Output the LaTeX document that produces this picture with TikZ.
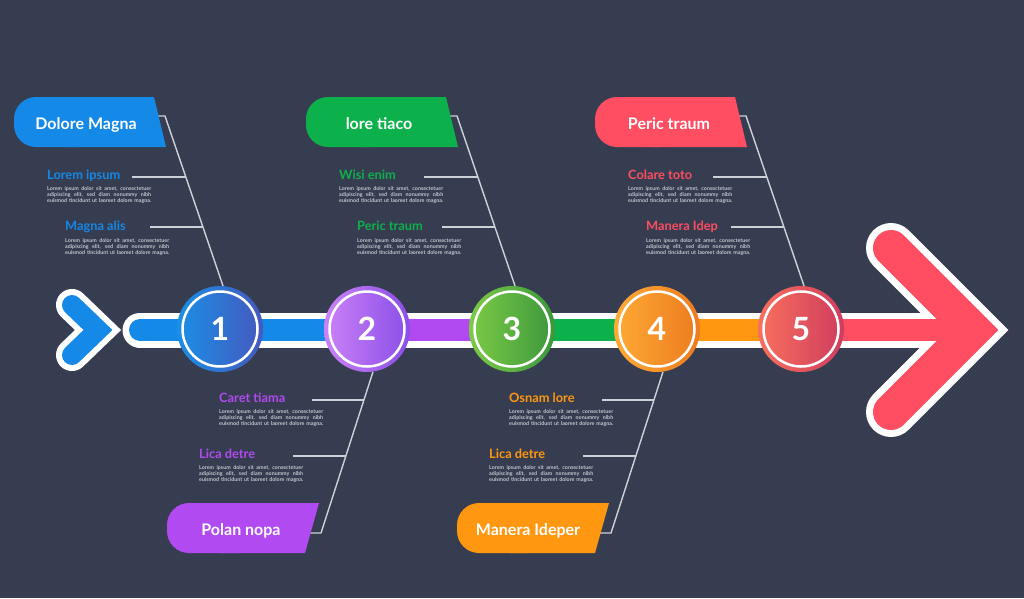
\documentclass[tikz,border=0pt]{standalone}
\usepackage{fontspec}
\setmainfont{Lato}
\usetikzlibrary{calc}
\pgfdeclarelayer{back}
\pgfsetlayers{back,main}
\definecolor{bg}{HTML}{363D50}
\definecolor{lineC}{HTML}{CDD1D8}
\definecolor{loremC}{HTML}{C3C7D0}
\definecolor{cBlue}{HTML}{1589E8}
\definecolor{cPurple}{HTML}{B24AF2}
\definecolor{cGreen}{HTML}{0DB14B}
\definecolor{cOrange}{HTML}{FF9710}
\definecolor{cRed}{HTML}{FF4D61}
\definecolor{g1l}{HTML}{1A8FE6}\definecolor{g1r}{HTML}{4658BE}
\definecolor{g2l}{HTML}{CB82F7}\definecolor{g2r}{HTML}{8A4EE8}
\definecolor{g3l}{HTML}{7CCB45}\definecolor{g3r}{HTML}{3C973C}
\definecolor{g4l}{HTML}{FFAA35}\definecolor{g4r}{HTML}{EC7B1F}
\definecolor{g5l}{HTML}{F8705E}\definecolor{g5r}{HTML}{CF3C5E}
\newcommand{\lorembody}{\makebox[104pt][s]{Lorem ipsum dolor sit amet, consectetuer}\\\makebox[104pt][s]{adipiscing elit, sed diam nonummy nibh}\\\makebox[104pt][s]{euismod tincidunt ut laoreet dolore magna.}}
\tikzset{
  conn/.style={draw=lineC, line width=1.4pt},
  blocktitle/.style={text=white, font=\fontsize{16}{19}\selectfont\bfseries, anchor=base, inner sep=0pt},
  subtitle/.style={font=\fontsize{12.8}{15}\selectfont\bfseries, anchor=base west, inner sep=0pt},
  loremnode/.style={text=loremC, font=\fontsize{5.3}{6.1}\selectfont\bfseries, anchor=north west, inner sep=0pt, align=left},
  numcircle/.style={circle, minimum size=86pt, inner sep=0pt, text=white, font=\fontsize{32}{36}\selectfont\bfseries},
  ring/.style={draw=white, line width=2.5pt},
  barwhite/.style={white, line width=35pt},
  barcol/.style={line width=22pt},
}
\begin{document}
\begin{tikzpicture}[x=1pt,y=-1pt]
\useasboundingbox (0,0) rectangle (1024,598);
\begin{pgfonlayer}{back}
\fill[bg] (0,0) rectangle (1024,598);
% white outlines
\draw[barwhite, line cap=round] (140,330) -- (950,330);
\draw[white, line width=32pt, line cap=round, line join=miter] (72,305) -- (98,330) -- (72,355);
\draw[white, line width=50pt, line cap=round, line join=miter] (891,248) -- (973,330) -- (891,412);
% coloured bar
\draw[barcol, cBlue, line cap=round] (140,330) -- (367,330);
\draw[barcol, cPurple] (367,330) -- (512,330);
\draw[barcol, cGreen] (512,330) -- (657,330);
\draw[barcol, cOrange] (657,330) -- (801,330);
\draw[barcol, cRed, line cap=round] (801,330) -- (950,330);
\draw[cBlue, line width=20pt, line cap=round, line join=miter] (72,305) -- (98,330) -- (72,355);
\draw[cRed, line width=36pt, line cap=round, line join=miter] (891,248) -- (973,330) -- (891,412);
\end{pgfonlayer}

% circles
\node[numcircle, left color=g1l, right color=g1r] (n1) at (220,329) {1};
\node[numcircle, left color=g2l, right color=g2r] (n2) at (367,329) {2};
\node[numcircle, left color=g3l, right color=g3r] (n3) at (512,329) {3};
\node[numcircle, left color=g4l, right color=g4r] (n4) at (657,329) {4};
\node[numcircle, left color=g5l, right color=g5r] (n5) at (801,329) {5};
\foreach \n in {n1,n2,n3,n4,n5}{\draw[ring] (\n.center) circle [radius=37.5];}

% connectors (behind)
\coordinate (s1) at (158,116); \coordinate (k1) at (165,116);
\coordinate (a1) at (132,177); \coordinate (b1) at (185.8,177);
\coordinate (c1) at (150,227); \coordinate (e1) at (202.9,227);
\coordinate (s3) at (450,116); \coordinate (k3) at (457,116);
\coordinate (a3) at (424,177); \coordinate (b3) at (477.8,177);
\coordinate (c3) at (442,227); \coordinate (e3) at (494.9,227);
\coordinate (s5) at (739,116); \coordinate (k5) at (746,116);
\coordinate (a5) at (713,177); \coordinate (b5) at (766.8,177);
\coordinate (c5) at (731,227); \coordinate (e5) at (783.9,227);
\coordinate (s2) at (308,533); \coordinate (k2) at (321,533);
\coordinate (a2) at (312,400); \coordinate (b2) at (364,400);
\coordinate (c2) at (293,456); \coordinate (e2) at (345.9,456);
\coordinate (s4) at (598,533); \coordinate (k4) at (611,533);
\coordinate (a4) at (602,400); \coordinate (b4) at (654,400);
\coordinate (c4) at (583,456); \coordinate (e4) at (635.9,456);
\begin{pgfonlayer}{back}
\foreach \g in {1,3,5}{
  \draw[conn] (s\g) -- (k\g) -- (n\g.86);
}
\foreach \g in {2,4}{
  \draw[conn] (n\g.278) -- (k\g) -- (s\g);
}
\foreach \g in {1,2,3,4,5}{
  \draw[conn] (a\g) -- (b\g);
  \draw[conn] (c\g) -- (e\g);
}
\end{pgfonlayer}

% top blocks
\fill[cBlue, rounded corners=22pt] (14,97) rectangle (100,147);
\fill[cBlue] (70,97) -- (154,97) -- (166,147) -- (70,147) -- cycle;
\node[blocktitle] (t1) at (86,129) {Dolore Magna};
\fill[cGreen, rounded corners=22pt] (306,97) rectangle (392,147);
\fill[cGreen] (362,97) -- (446,97) -- (458,147) -- (362,147) -- cycle;
\node[blocktitle] (t3) at (379,129) {lore tiaco};
\fill[cRed, rounded corners=22pt] (595,97) rectangle (681,147);
\fill[cRed] (651,97) -- (735,97) -- (747,147) -- (651,147) -- cycle;
\node[blocktitle] (t5) at (669,129) {Peric traum};
% bottom blocks
\fill[cPurple, rounded corners=22pt] (167,503) rectangle (260,553);
\fill[cPurple] (220,503) -- (319,503) -- (305,553) -- (220,553) -- cycle;
\node[blocktitle] (t2) at (241,535) {Polan nopa};
\fill[cOrange, rounded corners=22pt] (457,503) rectangle (550,553);
\fill[cOrange] (510,503) -- (609,503) -- (595,553) -- (510,553) -- cycle;
\node[blocktitle] (t4) at (528,535) {Manera Ideper};

% sub items
\node[subtitle, text=cBlue] (i1a) at (47,179) {Lorem ipsum};
\node[loremnode] (l1a) at (47,186.5) {\lorembody};
\node[subtitle, text=cBlue] (i1b) at (65,230) {Magna alis};
\node[loremnode] (l1b) at (65,238.5) {\lorembody};

\node[subtitle, text=cGreen] (i3a) at (339,179) {Wisi enim};
\node[loremnode] (l3a) at (339,186.5) {\lorembody};
\node[subtitle, text=cGreen] (i3b) at (357,230) {Peric traum};
\node[loremnode] (l3b) at (357,238.5) {\lorembody};

\node[subtitle, text=cRed] (i5a) at (628,179) {Colare toto};
\node[loremnode] (l5a) at (628,186.5) {\lorembody};
\node[subtitle, text=cRed] (i5b) at (646,230) {Manera Idep};
\node[loremnode] (l5b) at (646,238.5) {\lorembody};

\node[subtitle, text=cPurple] (i2a) at (219,402) {Caret tiama};
\node[loremnode] (l2a) at (219,409.5) {\lorembody};
\node[subtitle, text=cPurple] (i2b) at (199,458) {Lica detre};
\node[loremnode] (l2b) at (199,465.5) {\lorembody};

\node[subtitle, text=cOrange] (i4a) at (509,402) {Osnam lore};
\node[loremnode] (l4a) at (509,409.5) {\lorembody};
\node[subtitle, text=cOrange] (i4b) at (489,458) {Lica detre};
\node[loremnode] (l4b) at (489,465.5) {\lorembody};
\end{tikzpicture}
\end{document}
